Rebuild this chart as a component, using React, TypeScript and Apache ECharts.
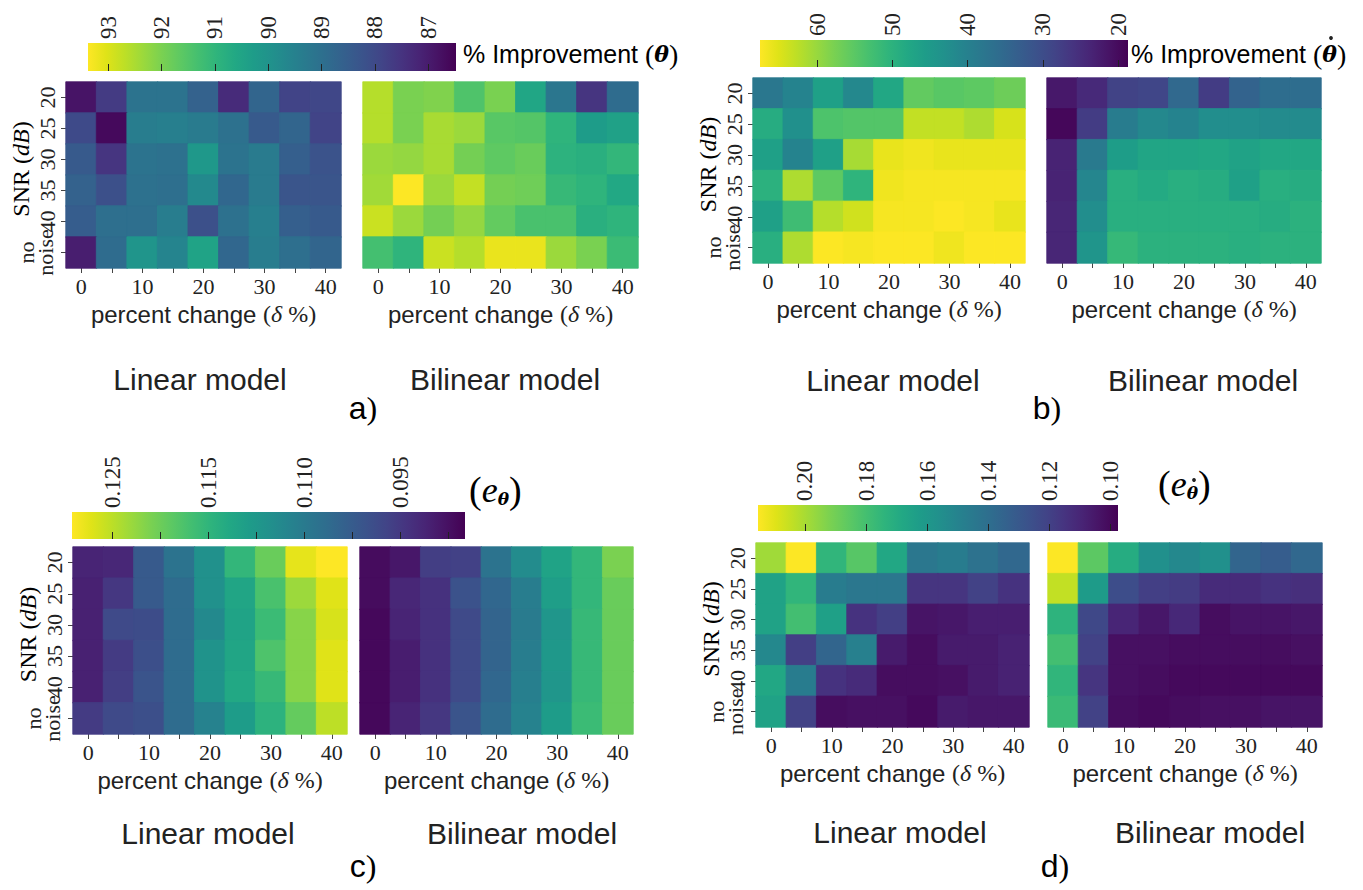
import React, { useEffect, useRef } from "react";
import * as echarts from "echarts";

// ---------- categories ----------
const deltaCats = ["0", "5", "10", "15", "20", "25", "30", "35", "40"];
const snrCats = ["20", "25", "30", "35", "40", "no\nnoise"];

// ---------- a) % improvement (theta) ----------
const aLinear = [
  [86.84, 87.67, 89.11, 89.11, 88.63, 87.32, 88.7, 87.87, 87.94],
  [88.01, 86.64, 89.39, 89.45, 89.32, 89.04, 88.42, 88.7, 87.87],
  [88.42, 87.53, 89.11, 89.04, 90.14, 89.11, 89.32, 88.56, 88.22],
  [88.63, 88.15, 89.04, 88.97, 89.73, 88.77, 89.32, 88.29, 88.29],
  [88.49, 88.97, 88.97, 89.39, 88.15, 89.04, 89.45, 88.56, 88.42],
  [87.05, 88.9, 90.07, 89.59, 90.48, 88.77, 89.39, 88.97, 88.7],
];
const aBilinear = [
  [92.61, 91.99, 92.06, 91.45, 91.99, 90.55, 89.18, 87.53, 88.9],
  [92.61, 91.99, 92.48, 92.34, 91.58, 91.52, 90.97, 90.28, 90.42],
  [92.34, 92.27, 92.48, 91.93, 91.65, 91.79, 90.9, 90.83, 91.03],
  [92.41, 93.37, 92.34, 92.75, 91.93, 91.86, 91.1, 90.97, 90.62],
  [92.82, 92.34, 91.93, 92.27, 91.72, 91.38, 91.38, 90.83, 90.97],
  [91.31, 90.97, 92.82, 92.61, 93.16, 93.16, 92.34, 91.99, 91.17],
];
const aRange = [86.48, 93.38];
const aTicks = [93, 92, 91, 90, 89, 88, 87];

// ---------- b) % improvement (theta dot) ----------
const bLinear = [
  [38.1, 40.6, 46.4, 41.5, 47.9, 55.7, 54.8, 55.3, 56.7],
  [48.9, 43.0, 53.8, 54.3, 54.3, 63.1, 63.1, 61.6, 64.6],
  [46.4, 40.6, 46.4, 61.1, 66.0, 66.5, 66.0, 66.0, 66.0],
  [49.9, 61.6, 55.3, 50.4, 66.5, 67.0, 67.0, 67.0, 67.0],
  [46.4, 52.3, 62.1, 64.1, 67.0, 67.0, 67.5, 67.0, 66.0],
  [49.4, 61.6, 67.5, 67.0, 67.5, 67.5, 66.5, 67.5, 67.5],
];
const bBilinear = [
  [21.9, 24.4, 28.3, 28.8, 35.2, 27.3, 34.2, 36.1, 36.1],
  [19.5, 27.3, 39.1, 41.5, 40.6, 42.5, 42.5, 42.0, 42.0],
  [23.4, 38.6, 45.9, 47.4, 47.4, 47.9, 46.9, 47.9, 47.9],
  [23.4, 41.0, 49.4, 48.4, 49.4, 48.9, 46.4, 49.4, 48.9],
  [23.9, 42.5, 49.4, 49.4, 49.4, 49.4, 49.4, 48.9, 49.9],
  [23.9, 44.0, 51.3, 49.9, 49.9, 49.9, 49.4, 49.9, 49.9],
];
const bRange = [18.7, 67.6];
const bTicks = [60, 50, 40, 30, 20];

// ---------- c) e_theta ----------
const cLinear = [
  [0.0924, 0.0928, 0.0998, 0.1038, 0.1088, 0.1153, 0.1198, 0.1276, 0.1292],
  [0.092, 0.0948, 0.0998, 0.1026, 0.1088, 0.1124, 0.1173, 0.1231, 0.1272],
  [0.092, 0.0973, 0.0977, 0.1026, 0.1075, 0.112, 0.1161, 0.1218, 0.1267],
  [0.092, 0.0953, 0.0981, 0.1026, 0.1092, 0.1124, 0.1177, 0.1218, 0.1272],
  [0.092, 0.0957, 0.0989, 0.1026, 0.1092, 0.1128, 0.1157, 0.1218, 0.1272],
  [0.0953, 0.0973, 0.0981, 0.1026, 0.1063, 0.1108, 0.1145, 0.1194, 0.1251],
];
const cBilinear = [
  [0.0895, 0.0908, 0.0957, 0.0961, 0.1038, 0.1079, 0.112, 0.1153, 0.121],
  [0.0895, 0.0928, 0.094, 0.0985, 0.1018, 0.1055, 0.1112, 0.1153, 0.1198],
  [0.0891, 0.0924, 0.094, 0.0973, 0.1014, 0.1051, 0.1096, 0.1157, 0.1198],
  [0.0891, 0.0916, 0.094, 0.0973, 0.1014, 0.1055, 0.11, 0.1157, 0.1198],
  [0.0891, 0.0916, 0.094, 0.0973, 0.1018, 0.1059, 0.1096, 0.1157, 0.1198],
  [0.0891, 0.0924, 0.0948, 0.0989, 0.1026, 0.1063, 0.1108, 0.1161, 0.1198],
];
const cRange = [0.0883, 0.1292];
const cTicks = [0.125, 0.12, 0.115, 0.11, 0.105, 0.1, 0.095, 0.09];
const cLabelValues = [0.125, 0.115, 0.105, 0.095];
const cLabels = ["0.125", "0.115", "0.110", "0.095"];

// ---------- d) e_theta dot ----------
const dLinear = [
  [0.1986, 0.2152, 0.1748, 0.1843, 0.1677, 0.144, 0.1464, 0.1416, 0.1369],
  [0.1653, 0.1748, 0.1464, 0.144, 0.144, 0.1155, 0.1155, 0.1202, 0.1143],
  [0.1653, 0.1796, 0.1642, 0.1143, 0.1191, 0.1036, 0.1048, 0.1072, 0.1072],
  [0.1523, 0.1191, 0.1357, 0.1487, 0.106, 0.1012, 0.106, 0.106, 0.1084],
  [0.1677, 0.1464, 0.1143, 0.1119, 0.1012, 0.1012, 0.1024, 0.106, 0.1084],
  [0.1653, 0.1202, 0.1012, 0.1024, 0.1024, 0.1001, 0.106, 0.1048, 0.1048],
];
const dBilinear = [
  [0.2152, 0.1855, 0.1701, 0.1559, 0.1523, 0.1559, 0.1357, 0.1321, 0.1369],
  [0.2045, 0.1618, 0.125, 0.1191, 0.1179, 0.1119, 0.1119, 0.1143, 0.1131],
  [0.1737, 0.1226, 0.1096, 0.1048, 0.1107, 0.1012, 0.1036, 0.1036, 0.1048],
  [0.1796, 0.1202, 0.1024, 0.1024, 0.1012, 0.1012, 0.1012, 0.1012, 0.1024],
  [0.1748, 0.1155, 0.1024, 0.1012, 0.1001, 0.1001, 0.1001, 0.1001, 0.1001],
  [0.1772, 0.1202, 0.1012, 0.1001, 0.1012, 0.1024, 0.1024, 0.1036, 0.1036],
];
const dRange = [0.0974, 0.2154];
const dTicks = [0.2, 0.18, 0.16, 0.14, 0.12, 0.1];

const VIRIDIS = [
  "#440154", "#471365", "#482475", "#463480", "#414487", "#3b528b", "#355f8d",
  "#2f6c8e", "#2a788e", "#25848e", "#21918c", "#1e9c89", "#22a884", "#2fb47c",
  "#44bf70", "#5ec962", "#7ad151", "#9bd93c", "#bddf26", "#dfe318", "#fde725",
];

const SERIF = "'Liberation Serif', 'DejaVu Serif', serif";
const SANS = "'Liberation Sans', Arial, sans-serif";
const INK = "#222";

type Box = { left: number; top: number; width: number; height: number };

function hexToRgb(h: string) {
  const n = parseInt(h.slice(1), 16);
  return [(n >> 16) & 255, (n >> 8) & 255, n & 255];
}
// same linear interpolation as the visualMap, used for the seam-hiding cell borders
function viridisAt(t: number) {
  const tt = Math.max(0, Math.min(1, t));
  const pos = tt * (VIRIDIS.length - 1);
  const i = Math.min(VIRIDIS.length - 2, Math.floor(pos));
  const f = pos - i;
  const a = hexToRgb(VIRIDIS[i]);
  const b = hexToRgb(VIRIDIS[i + 1]);
  const c = a.map((x, k) => Math.round(x + (b[k] - x) * f));
  return `rgb(${c[0]},${c[1]},${c[2]})`;
}

const panels = [
  {
    lin: aLinear, bil: aBilinear, range: aRange, ticks: aTicks, labelVals: aTicks,
    fmt: (v: number) => String(Math.round(v)),
    gl: { left: 66, top: 82, width: 275, height: 186 },
    gb: { left: 363, top: 82, width: 275, height: 186 },
    cb: { left: 88, top: 43, width: 368, height: 28 },
  },
  {
    lin: bLinear, bil: bBilinear, range: bRange, ticks: bTicks, labelVals: bTicks,
    fmt: (v: number) => String(Math.round(v)),
    gl: { left: 753, top: 78, width: 272, height: 185 },
    gb: { left: 1047, top: 78, width: 274, height: 185 },
    cb: { left: 760, top: 40, width: 368, height: 27 },
  },
  {
    lin: cLinear, bil: cBilinear, range: cRange, ticks: cTicks, labelVals: cLabelValues,
    fmt: (v: number) => {
      let best = 0;
      cLabelValues.forEach((lv, i) => {
        if (Math.abs(lv - v) < Math.abs(cLabelValues[best] - v)) best = i;
      });
      return cLabels[best];
    },
    gl: { left: 73, top: 547, width: 274, height: 187 },
    gb: { left: 360, top: 547, width: 273, height: 187 },
    cb: { left: 72, top: 512, width: 393, height: 27 },
  },
  {
    lin: dLinear, bil: dBilinear, range: dRange, ticks: dTicks, labelVals: dTicks,
    fmt: (v: number) => v.toFixed(2),
    gl: { left: 756, top: 543, width: 273, height: 184 },
    gb: { left: 1048, top: 543, width: 274, height: 184 },
    cb: { left: 758, top: 505, width: 360, height: 26 },
  },
];

const panelTexts = [
  { lin: [200, 379], bil: [505, 379], tag: "a", tagPos: [363, 408] },
  { lin: [893, 380], bil: [1203, 380], tag: "b", tagPos: [1047, 408] },
  { lin: [208, 833], bil: [522, 833], tag: "c", tagPos: [363, 866] },
  { lin: [900, 832], bil: [1210, 832], tag: "d", tagPos: [1055, 866] },
];

function buildOption() {
  const grids: any[] = [];
  const xAxes: any[] = [];
  const yAxes: any[] = [];
  const series: any[] = [];
  const visualMaps: any[] = [];
  const graphics: any[] = [];

  const richName = {
    s: { fontFamily: SANS, fontSize: 24, color: INK },
    r: { fontFamily: SERIF, fontSize: 24, color: INK },
    i: { fontFamily: SERIF, fontSize: 24, color: INK, fontStyle: "italic" },
  };

  const addHeat = (box: Box, rows: number[][], range: number[], showY: boolean) => {
    const gi = grids.length;
    grids.push({ ...box, containLabel: false });
    xAxes.push({
      type: "category", gridIndex: gi, data: deltaCats, position: "bottom",
      axisLine: { show: false },
      axisTick: { show: true, alignWithLabel: true, interval: 0, length: 5, lineStyle: { color: "#444" } },
      axisLabel: { interval: 1, fontFamily: SERIF, fontSize: 22, color: INK, margin: 7 },
      splitLine: { show: false },
      name: "{s|percent change }{r|(}{i|δ}{r| %)}",
      nameLocation: "middle", nameGap: 34,
      nameTextStyle: { rich: richName },
    });
    yAxes.push({
      type: "category", gridIndex: gi, data: snrCats, inverse: true,
      axisLine: { show: false },
      axisTick: { show: showY, alignWithLabel: true, interval: 0, length: 5, lineStyle: { color: "#444" } },
      axisLabel: {
        show: showY, interval: 0, rotate: 90, fontFamily: SERIF, fontSize: 22,
        color: INK, margin: 8,
        // the two-line category is drawn below as two rotated texts
        formatter: (v: string) => (v.indexOf("\n") >= 0 ? "" : v),
      },
      splitLine: { show: false },
    });
    if (showY) {
      const rowH = box.height / snrCats.length;
      const cy = box.top + rowH * (snrCats.length - 0.5);
      const parts = snrCats[snrCats.length - 1].split("\n");
      parts.forEach((txt, k) => {
        graphics.push({
          type: "text", x: box.left - 21 - (parts.length - 1 - k) * 19, y: cy, rotation: Math.PI / 2,
          style: { text: txt, fontFamily: SERIF, fontSize: 22, fill: INK, align: "center", verticalAlign: "middle" },
        });
      });
      graphics.push({
        type: "text", x: box.left - 45, y: box.top + box.height / 2 - 6, rotation: Math.PI / 2,
        style: {
          text: "{r|SNR (}{i|dB}{r|)}", rich: richName, align: "center", verticalAlign: "middle",
        },
      });
    }
    const data = rows.flatMap((row, r) =>
      row.map((v, c) => {
        const col = viridisAt((v - range[0]) / (range[1] - range[0]));
        return { value: [c, r, v], itemStyle: { borderColor: col, borderWidth: 0.8 } };
      })
    );
    series.push({
      type: "heatmap", xAxisIndex: gi, yAxisIndex: gi, data,
      emphasis: { disabled: true }, progressive: 0,
    });
  };

  panels.forEach((p, pi) => {
    addHeat(p.gl, p.lin, p.range, true);
    addHeat(p.gb, p.bil, p.range, false);
    visualMaps.push({
      type: "continuous", show: false, min: p.range[0], max: p.range[1],
      seriesIndex: [pi * 2, pi * 2 + 1], dimension: 2,
      inRange: { color: VIRIDIS },
    });
  });

  panels.forEach((p) => {
    const gi = grids.length;
    grids.push({ ...p.cb, containLabel: false });
    xAxes.push({
      type: "value", gridIndex: gi, min: p.range[0], max: p.range[1], inverse: true,
      position: "top",
      axisLine: { show: false },
      axisTick: { show: true, length: 7, customValues: p.ticks, lineStyle: { color: INK } },
      axisLabel: {
        show: true, rotate: 90, customValues: p.labelVals, formatter: p.fmt,
        fontFamily: SERIF, fontSize: 23, color: INK, margin: 4,
      },
      splitLine: { show: false },
    });
    yAxes.push({ type: "value", gridIndex: gi, show: false, min: 0, max: 1 });
    const stops = VIRIDIS.map((c, i) => ({ offset: 1 - i / (VIRIDIS.length - 1), color: c })).reverse();
    graphics.push({
      type: "rect",
      shape: { x: p.cb.left, y: p.cb.top, width: p.cb.width, height: p.cb.height },
      style: { fill: new echarts.graphic.LinearGradient(0, 0, 1, 0, stops) },
      silent: true,
    });
  });

  // colorbar titles
  const THETA_FONT = "'DejaVu Serif', 'Liberation Serif', serif";
  const cbRich = {
    s: { fontFamily: SANS, fontSize: 25, color: INK },
    r: { fontFamily: SERIF, fontSize: 28, color: INK },
    t: { fontFamily: THETA_FONT, fontSize: 22, color: INK, fontStyle: "italic", fontWeight: "bold" },
    e: { fontFamily: SERIF, fontSize: 36, color: INK, fontStyle: "italic" },
    sub: { fontFamily: THETA_FONT, fontSize: 17, color: INK, fontStyle: "italic", fontWeight: "bold", padding: [18, 0, 0, 0] },
    rr: { fontFamily: SERIF, fontSize: 38, color: INK },
  };
  const cbTitles = [
    { x: 463, y: 54, text: "{s|% Improvement }{r|(}{t|θ}{r|)}" },
    { x: 1131, y: 54, text: "{s|% Improvement }{r|(}{t|θ}{r|)}" },
    { x: 469, y: 490, text: "{rr|(}{e|e}{sub|θ}{rr|)}" },
    { x: 1158, y: 484, text: "{rr|(}{e|e}{sub|θ}{rr|)}" },
  ];
  cbTitles.forEach((t) => {
    graphics.push({
      type: "text", x: t.x, y: t.y,
      style: { text: t.text, rich: cbRich, align: "left", verticalAlign: "middle" },
    });
  });
  // time-derivative dots over theta (b and d)
  [[1331, 38], [1194, 480]].forEach(([cx, cy]) => {
    graphics.push({ type: "circle", shape: { cx, cy, r: 1.9 }, style: { fill: INK } });
  });

  const labelStyle = { fontFamily: SANS, fontSize: 30, fill: INK, align: "center", verticalAlign: "middle" };
  panelTexts.forEach((pt) => {
    graphics.push({ type: "text", x: pt.lin[0], y: pt.lin[1], style: { ...labelStyle, text: "Linear model" } });
    graphics.push({ type: "text", x: pt.bil[0], y: pt.bil[1], style: { ...labelStyle, text: "Bilinear model" } });
    graphics.push({
      type: "text", x: pt.tagPos[0], y: pt.tagPos[1],
      style: {
        text: `{a|${pt.tag}}{b|)}`, align: "center", verticalAlign: "middle",
        rich: {
          a: { fontFamily: SANS, fontSize: 32, color: INK },
          b: { fontFamily: SERIF, fontSize: 32, color: INK },
        },
      },
    });
  });

  return {
    animation: false,
    backgroundColor: "#ffffff",
    grid: grids,
    xAxis: xAxes,
    yAxis: yAxes,
    visualMap: visualMaps,
    series,
    graphic: graphics,
  };
}

export default function App() {
  const ref = useRef<HTMLDivElement>(null);
  useEffect(() => {
    if (!ref.current) return;
    const chart = echarts.init(ref.current, undefined, { renderer: "svg" });
    chart.setOption(buildOption() as any);
    return () => chart.dispose();
  }, []);
  return (
    <div
      ref={ref}
      style={{ position: "fixed", left: 0, top: 0, width: 1363, height: 890, background: "#fff" }}
    />
  );
}
